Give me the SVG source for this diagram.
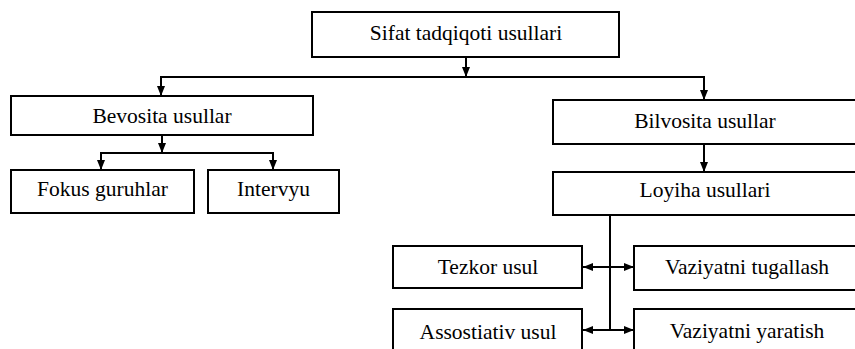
<svg xmlns="http://www.w3.org/2000/svg" width="855" height="349" viewBox="0 0 855 349">
  <defs>
    <marker id="arrow" markerUnits="userSpaceOnUse" markerWidth="10" markerHeight="8" refX="10" refY="4" orient="auto">
      <path d="M0,0 L10,4 L0,8 z" fill="#000"/>
    </marker>
    <style>
      .box { fill: #fff; stroke: #000; stroke-width: 2; }
      .lbl { font-family: "Liberation Serif", "Times New Roman", serif; font-size: 21.5px; fill: #000; text-anchor: middle; }
      .link { fill: none; stroke: #000; stroke-width: 2; }
      .arr { marker-end: url(#arrow); }
    </style>
  </defs>
  <rect width="855" height="349" fill="#fff"/>

  <g id="connectors">
    <path class="link arr" d="M466,57 V77"/>
    <path class="link arr" d="M466,77 H161 V96"/>
    <path class="link arr" d="M466,77 H704 V100"/>
    <path class="link arr" d="M162,135 V153"/>
    <path class="link arr" d="M162,153 H101 V170"/>
    <path class="link arr" d="M162,153 H273 V170"/>
    <path class="link arr" d="M704,144 V172"/>
    <path class="link" d="M610,215 V331"/>
    <path class="link arr" d="M610,267 H583"/>
    <path class="link arr" d="M610,267 H634"/>
    <path class="link arr" d="M610,330 H583"/>
    <path class="link arr" d="M610,330 H634"/>
  </g>

  <g id="sifat">
    <rect class="box" x="312" y="12" width="307" height="45"/>
    <text class="lbl" x="466" y="40">Sifat tadqiqoti usullari</text>
  </g>
  <g id="bevosita">
    <rect class="box" x="11" y="96" width="302" height="39"/>
    <text class="lbl" x="162" y="123">Bevosita usullar</text>
  </g>
  <g id="fokus">
    <rect class="box" x="11" y="170" width="183" height="43"/>
    <text class="lbl" x="102.5" y="196">Fokus guruhlar</text>
  </g>
  <g id="intervyu">
    <rect class="box" x="208" y="170" width="131" height="43"/>
    <text class="lbl" x="273.5" y="196">Intervyu</text>
  </g>
  <g id="bilvosita">
    <rect class="box" x="553" y="100" width="320" height="44"/>
    <text class="lbl" x="705" y="128">Bilvosita usullar</text>
  </g>
  <g id="loyiha">
    <rect class="box" x="553" y="172" width="320" height="43"/>
    <text class="lbl" x="705" y="197">Loyiha usullari</text>
  </g>
  <g id="tezkor">
    <rect class="box" x="393" y="246" width="189" height="42"/>
    <text class="lbl" x="488" y="274">Tezkor usul</text>
  </g>
  <g id="tugallash">
    <rect class="box" x="634" y="246" width="240" height="44"/>
    <text class="lbl" x="747" y="274">Vaziyatni tugallash</text>
  </g>
  <g id="assostiativ">
    <rect class="box" x="393" y="309" width="189" height="60"/>
    <text class="lbl" x="488" y="339">Assostiativ usul</text>
  </g>
  <g id="yaratish">
    <rect class="box" x="634" y="309" width="240" height="60"/>
    <text class="lbl" x="747" y="338">Vaziyatni yaratish</text>
  </g>
</svg>
